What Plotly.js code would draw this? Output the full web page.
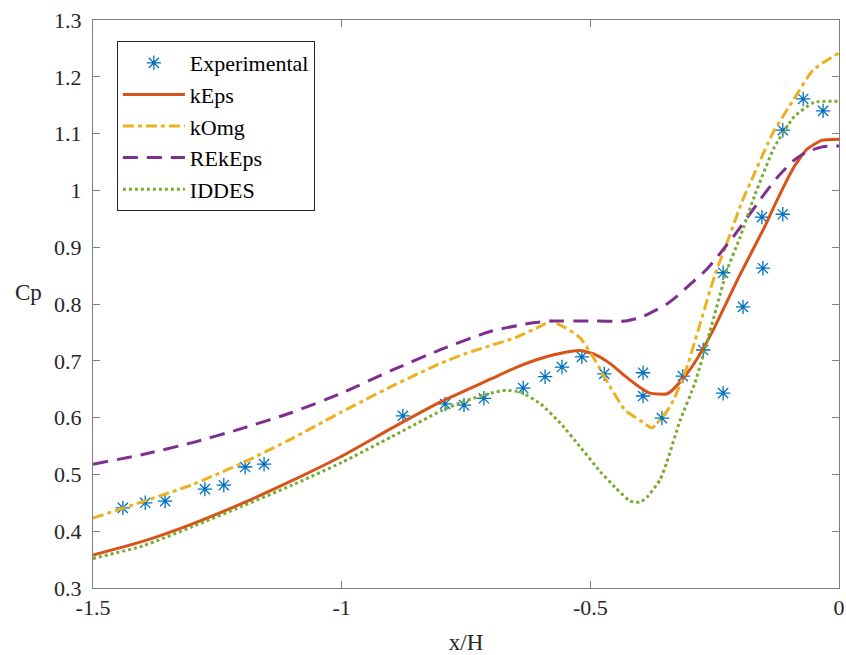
<!DOCTYPE html>
<html>
<head>
<meta charset="utf-8">
<script src="https://cdn.plot.ly/plotly-3.0.1.min.js"></script>
<style>html,body{margin:0;padding:0;background:#fff;}#chart{width:846px;height:655px;}</style>
</head>
<body>
<div id="chart"></div>
<script>
// Experimental data
const expX = [-1.44, -1.395, -1.355, -1.275, -1.237, -1.194, -1.156, -0.877, -0.792, -0.754, -0.714, -0.635, -0.591, -0.557, -0.517, -0.472, -0.394, -0.394, -0.356, -0.314, -0.273, -0.233, -0.233, -0.193, -0.153, -0.155, -0.113, -0.113, -0.072, -0.032];
const expY = [0.441, 0.45, 0.453, 0.474, 0.481, 0.513, 0.518, 0.603, 0.624, 0.622, 0.634, 0.652, 0.672, 0.689, 0.707, 0.677, 0.679, 0.638, 0.599, 0.673, 0.719, 0.643, 0.855, 0.795, 0.863, 0.953, 0.958, 1.106, 1.161, 1.140];

// kEps
const kEpsX = [-1.5, -1.4, -1.3, -1.2, -1.1, -1.0, -0.9, -0.8, -0.7, -0.65, -0.6, -0.55, -0.52, -0.49, -0.46, -0.43, -0.40, -0.38, -0.345, -0.32, -0.29, -0.253, -0.2, -0.15, -0.125, -0.09, -0.065, -0.035, 0];
const kEpsY = [0.358, 0.382, 0.413, 0.449, 0.489, 0.532, 0.581, 0.628, 0.668, 0.688, 0.704, 0.715, 0.718, 0.711, 0.695, 0.673, 0.653, 0.643, 0.642, 0.662, 0.697, 0.754, 0.85, 0.935, 0.982, 1.042, 1.072, 1.088, 1.09];

// kOmg
const kOmgX = [-1.5, -1.4, -1.3, -1.2, -1.1, -1.0, -0.9, -0.842, -0.8, -0.75, -0.7, -0.65, -0.6, -0.58, -0.55, -0.52, -0.49, -0.46, -0.43, -0.40, -0.376, -0.34, -0.31, -0.283, -0.25, -0.226, -0.195, -0.173, -0.133, -0.092, -0.052, 0];
const kOmgY = [0.423, 0.452, 0.482, 0.52, 0.563, 0.61, 0.655, 0.679, 0.696, 0.713, 0.727, 0.741, 0.761, 0.77, 0.758, 0.74, 0.70, 0.654, 0.613, 0.595, 0.582, 0.619, 0.678, 0.754, 0.85, 0.906, 0.98, 1.024, 1.101, 1.159, 1.212, 1.242];

// REkEps
const reX = [-1.5, -1.4, -1.3, -1.2, -1.1, -1.0, -0.9, -0.8, -0.7, -0.615, -0.58, -0.5, -0.43, -0.4, -0.38, -0.346, -0.32, -0.3, -0.265, -0.213, -0.159, -0.125, -0.092, -0.064, -0.032, 0];
const reY = [0.518, 0.535, 0.556, 0.581, 0.609, 0.643, 0.683, 0.72, 0.752, 0.767, 0.77, 0.77, 0.77, 0.776, 0.784, 0.80, 0.818, 0.834, 0.862, 0.918, 0.983, 1.022, 1.052, 1.068, 1.077, 1.078];

// IDDES
const iddesX = [-1.5, -1.4, -1.3, -1.2, -1.1, -1.0, -0.9, -0.8, -0.75, -0.7, -0.67, -0.64, -0.6, -0.56, -0.52, -0.48, -0.45, -0.42, -0.40, -0.386, -0.36, -0.346, -0.32, -0.29, -0.26, -0.225, -0.2, -0.17, -0.13, -0.09, -0.05, 0];
const iddesY = [0.352, 0.374, 0.408, 0.444, 0.481, 0.521, 0.566, 0.612, 0.63, 0.643, 0.648, 0.645, 0.624, 0.59, 0.548, 0.505, 0.477, 0.453, 0.451, 0.46, 0.49, 0.522, 0.594, 0.66, 0.75, 0.86, 0.915, 0.99, 1.076, 1.13, 1.155, 1.157];

const xTickVals = [-1.5, -1, -0.5, 0];
const xTickText = ['-1.5', '-1', '-0.5', '0'];
const yTickVals = [0.3, 0.4, 0.5, 0.6, 0.7, 0.8, 0.9, 1.0, 1.1, 1.2, 1.3];
const yTickText = ['0.3', '0.4', '0.5', '0.6', '0.7', '0.8', '0.9', '1', '1.1', '1.2', '1.3'];

const FONT = '"Liberation Serif", "Times New Roman", serif';

const traces = [
  {x: expX, y: expY, name: 'Experimental', mode: 'markers', type: 'scatter',
   marker: {symbol: 'asterisk-open', size: 12, color: '#0072BD', line: {color: '#0072BD', width: 1.3}}},
  {x: kEpsX, y: kEpsY, name: 'kEps', mode: 'lines', type: 'scatter',
   line: {color: '#D95319', width: 3, shape: 'spline', smoothing: 0.5}},
  {x: kOmgX, y: kOmgY, name: 'kOmg', mode: 'lines', type: 'scatter',
   line: {color: '#EDB120', width: 3, dash: '11px,4px,4px,4px', shape: 'spline', smoothing: 0.5}},
  {x: reX, y: reY, name: 'REkEps', mode: 'lines', type: 'scatter',
   line: {color: '#7E2F8E', width: 3, dash: '15px,9px', shape: 'spline', smoothing: 0.6}},
  {x: iddesX, y: iddesY, name: 'IDDES', mode: 'lines', type: 'scatter',
   line: {color: '#77AC30', width: 3, dash: '3px,3px', shape: 'spline', smoothing: 0.5}}
];

const axisCommon = {
  showline: true, mirror: 'ticks', linecolor: '#808080', linewidth: 1,
  ticks: 'inside', ticklen: 7, tickcolor: '#808080', tickwidth: 1,
  showgrid: false, zeroline: false,
  tickfont: {family: FONT, size: 22, color: '#262626'}
};

const layout = {
  width: 846, height: 655,
  paper_bgcolor: '#fff', plot_bgcolor: '#fff',
  margin: {l: 93, r: 7, t: 20, b: 67},
  showlegend: true,
  legend: {x: 0.032, y: 0.963, xanchor: 'left', yanchor: 'top',
    bgcolor: '#fff', bordercolor: '#262626', borderwidth: 1,
    font: {family: FONT, size: 22, color: '#000'}, itemwidth: 62, tracegroupgap: 0,
    entrywidth: 208, entrywidthmode: 'pixels'},
  xaxis: Object.assign({}, axisCommon, {range: [-1.5, 0], tickvals: xTickVals, ticktext: xTickText,
    title: {text: 'x/H', font: {family: FONT, size: 23, color: '#262626'}, standoff: 16}}),
  yaxis: Object.assign({}, axisCommon, {range: [0.3, 1.3], tickvals: yTickVals, ticktext: yTickText, ticklabelstandoff: 6}),
  annotations: [{text: 'Cp', xref: 'paper', yref: 'paper', x: -0.087, y: 0.521, showarrow: false,
    xanchor: 'center', yanchor: 'middle', font: {family: FONT, size: 23, color: '#262626'}}]
};

Plotly.newPlot('chart', traces, layout, {displayModeBar: false, staticPlot: true});
</script>
</body>
</html>
